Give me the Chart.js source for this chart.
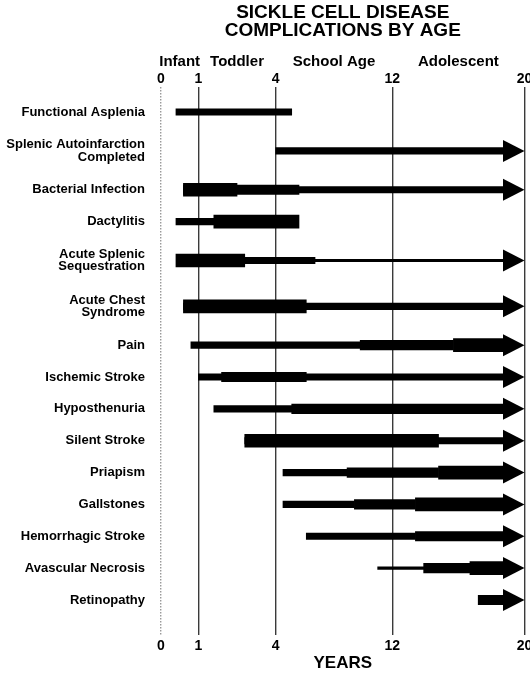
<!DOCTYPE html>
<html>
<head>
<meta charset="utf-8">
<title>Sickle Cell Disease Complications by Age</title>
<script src="https://cdn.jsdelivr.net/npm/chart.js@4.4.1/dist/chart.umd.min.js"></script>
<style>
  html, body { margin: 0; padding: 0; background: #fff; }
</style>
</head>
<body>
<canvas id="complicationsChart" width="530" height="673"></canvas>
<script>
// ---- DATA (ages in years) ----
const titleLines = ["SICKLE CELL DISEASE", "COMPLICATIONS BY AGE"];
const axisTitle = "YEARS";
const ageTicks = [0, 1, 4, 12, 20];
const stages = ["Infant", "Toddler", "School Age", "Adolescent"];

const complications = [
    "Functional Asplenia",
    ["Splenic Autoinfarction", "Completed"],
    "Bacterial Infection",
    "Dactylitis",
    ["Acute Splenic", "Sequestration"],
    ["Acute Chest", "Syndrome"],
    "Pain",
    "Ischemic Stroke",
    "Hyposthenuria",
    "Silent Stroke",
    "Priapism",
    "Gallstones",
    "Hemorrhagic Stroke",
    "Avascular Necrosis",
    "Retinopathy"
];

// age ranges per line weight (thinner layers sit under thicker ones)
const hairlineRisk = [null, null, null, null, [6.7, 18.7], null, null, null, null, null, null, null, null, [11, 13.9], null];
const lowRisk = [[0.4, 5.1], [4, 18.7], [0.6, 18.7], [0.4, 1.6], [2.8, 6.7], [0.6, 18.7], [0.8, 9.8], [1, 18.7], [1.6, 5.1], [2.8, 18.7], [4.5, 8.9], [4.5, 9.4], [6.1, 13.4], null, null];
const midRisk = [null, null, [0.6, 5.6], null, null, null, [9.8, 15.7], [1.9, 6.1], [5.1, 18.7], null, [8.9, 14.8], [9.4, 13.4], [13.4, 18.7], [13.9, 16.7], [17.2, 18.7]];
const highRisk = [null, null, [0.6, 2.5], [1.6, 5.6], [0.4, 2.8], [0.6, 6.1], [15.7, 18.7], null, null, [2.8, 14.8], [14.8, 18.7], [13.4, 18.7], null, [16.7, 18.7], null];
// continues past age 20
const continuing = [false, true, true, false, true, true, true, true, true, true, true, true, true, true, true];

// ---- LAYOUT / STYLE ----
const AGE_SPANS = [1, 2.07, 3.12, 3.54];   // drawn width of each age interval
const ROW_LEAD = 0.785, ROW_TRAIL = 1.1, ROW_TWO_LINE = 1.44;
const FONT = "'Liberation Sans', Arial, Helvetica, sans-serif";

Chart.defaults.font.family = FONT;
Chart.defaults.color = "#000";

// Piecewise age axis: 0-1, 1-4, 4-12, 12-20 get their own widths
class AgeScale extends Chart.LinearScale {
    getPixelForValue(value) {
        const total = AGE_SPANS.reduce((a, b) => a + b, 0);
        let acc = 0;
        for (let i = 0; i < AGE_SPANS.length; i++) {
            const a = ageTicks[i], b = ageTicks[i + 1];
            if (value <= b || i === AGE_SPANS.length - 1) {
                return this.getPixelForDecimal((acc + AGE_SPANS[i] * (value - a) / (b - a)) / total);
            }
            acc += AGE_SPANS[i];
        }
    }
}
AgeScale.id = "age";
AgeScale.defaults = Chart.LinearScale.defaults;

// Category rows, two-line labels get a bit more room
function rowCenters(labels) {
    const w = labels.map(l => Array.isArray(l) ? ROW_TWO_LINE : 1);
    let pos = ROW_LEAD;
    const c = [];
    w.forEach((wi, i) => {
        if (i > 0) pos += (w[i - 1] + wi) / 2;
        c.push(pos);
    });
    const total = pos + ROW_TRAIL;
    return c.map(p => p / total);
}

class RowScale extends Chart.CategoryScale {
    getPixelForValue(value) {
        if (typeof value !== "number") value = this.parse(value);
        if (value === null || value === undefined || isNaN(value)) return NaN;
        const centers = rowCenters(this.getLabels());
        return this.top + centers[value] * (this.bottom - this.top);
    }
}
RowScale.id = "rows";
RowScale.defaults = Chart.CategoryScale.defaults;

Chart.register(AgeScale, RowScale);

// Arrow heads at the end of the ongoing complications
const arrowHeads = {
    id: "arrowHeads",
    afterDatasetsDraw(chart) {
        const { ctx, scales: { x, y } } = chart;
        const tip = x.getPixelForValue(x.max);
        const layers = [hairlineRisk, lowRisk, midRisk, highRisk];
        ctx.save();
        ctx.fillStyle = "#000";
        continuing.forEach((on, i) => {
            if (!on) return;
            const end = Math.max(...layers.map(l => l[i] ? l[i][1] : -Infinity));
            const base = x.getPixelForValue(end);
            const cy = y.getPixelForValue(i);
            ctx.beginPath();
            ctx.moveTo(tip, cy);
            ctx.lineTo(base, cy - 11);
            ctx.lineTo(base, cy + 11);
            ctx.closePath();
            ctx.fill();
        });
        ctx.restore();
    }
};

function layer(data, thickness) {
    return {
        data: data,
        backgroundColor: "#000",
        borderWidth: 0,
        grouped: false,
        barPercentage: 1,
        categoryPercentage: 1,
        maxBarThickness: thickness
    };
}

const numberTicks = { autoSkip: false, maxRotation: 0, color: "#000", font: { size: 14, weight: "bold", lineHeight: 1 } };
const noPadding = s => { s.paddingLeft = 0; s.paddingRight = 0; };

new Chart(document.getElementById("complicationsChart"), {
    type: "bar",
    data: {
        labels: complications,
        datasets: [
            layer(hairlineRisk, 2.5),
            layer(lowRisk, 6.5),
            layer(midRisk, 9.5),
            layer(highRisk, 13)
        ]
    },
    options: {
        indexAxis: "y",
        responsive: false,
        animation: false,
        devicePixelRatio: 1,
        events: [],
        layout: { padding: { left: 0, right: 5.5, top: 0, bottom: 1 } },
        plugins: {
            legend: { display: false },
            tooltip: { enabled: false },
            title: {
                display: true,
                text: titleLines,
                color: "#000",
                fullSize: false,
                font: { size: 19, weight: "bold", lineHeight: 0.98 },
                padding: { top: 3, bottom: 11.8 }
            }
        },
        scales: {
            x: {
                type: "age",
                position: "bottom",
                min: 0,
                max: 20,
                afterBuildTicks: s => { s.ticks = ageTicks.map(v => ({ value: v })); },
                afterFit: noPadding,
                ticks: Object.assign({ padding: 4 }, numberTicks),
                grid: {
                    drawTicks: false,
                    lineWidth: 1.4,
                    color: c => (c.tick && c.tick.value === 0) ? "#9a9a9a" : "#3a3a3a"
                },
                border: {
                    display: false,
                    dash: c => (c.tick && c.tick.value === 0) ? [1.5, 1.5] : []
                },
                title: {
                    display: true,
                    text: axisTitle,
                    color: "#000",
                    font: { size: 17, weight: "bold", lineHeight: 1 },
                    padding: { top: -2, bottom: 0 }
                }
            },
            xTop: {
                axis: "x",
                type: "age",
                position: "top",
                weight: 0,
                min: 0,
                max: 20,
                afterBuildTicks: s => { s.ticks = ageTicks.map(v => ({ value: v })); },
                afterFit: noPadding,
                ticks: Object.assign({ padding: 0.5 }, numberTicks),
                grid: { display: false, drawTicks: false },
                border: { display: false }
            },
            xStage: {
                axis: "x",
                type: "age",
                position: "top",
                weight: 1,
                min: 0,
                max: 20,
                afterBuildTicks: s => {
                    s.ticks = stages.map((st, i) => ({ value: (ageTicks[i] + ageTicks[i + 1]) / 2 }));
                },
                afterFit: noPadding,
                ticks: {
                    autoSkip: false,
                    maxRotation: 0,
                    padding: 2.5,
                    color: "#000",
                    font: { size: 15, weight: "bold", lineHeight: 1 },
                    callback: (v, i) => stages[i]
                },
                grid: { display: false, drawTicks: false },
                border: { display: false }
            },
            y: {
                type: "rows",
                position: "left",
                afterFit: s => { s.width = 161; },
                ticks: {
                    autoSkip: false,
                    padding: 16,
                    color: "#000",
                    font: { size: 13, weight: "bold", lineHeight: 0.98 }
                },
                grid: { display: false, drawTicks: false },
                border: { display: false }
            }
        }
    },
    plugins: [arrowHeads]
});
</script>
</body>
</html>
